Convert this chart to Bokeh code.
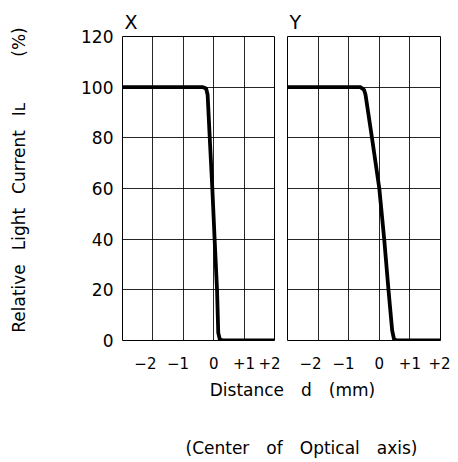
from bokeh.plotting import figure
from bokeh.models import Range1d, FixedTicker, Title, Label
from bokeh.layouts import row, column
from bokeh.embed import file_html
from bokeh.resources import INLINE

# ---- data ----
x_tick_values = [-2, -1, 0, 1, 2]
x_tick_labels = ["\u22122\u2003", "\u22121\u2002\u2009", "0", "+1", "+2"]
y_tick_values = [0, 20, 40, 60, 80, 100, 120]

x_dist = [-3.0, -0.35, -0.25, -0.2, -0.13, -0.045, 0.03, 0.11, 0.15, 0.2, 0.3, 2.0]
x_curr = [100, 100, 99.5, 97, 80, 60, 40, 20, 3, 0.5, 0, 0]

y_dist = [-3.0, -0.62, -0.5, -0.45, -0.24, 0.0, 0.16, 0.30, 0.42, 0.48, 0.58, 2.0]
y_curr = [100, 100, 99, 97, 80, 60, 40, 20, 4, 0.5, 0, 0]

panel_titles = ["X", "Y"]
y_label = ("\u2003Relative\u2002\u00a0Light\u2002\u00a0Current\u2002\u00a0I\u029f"
           "\u2003\u2003\u2002\u2009(%)")
x_label = "Distance\u2003d\u2003(mm)"
note = "(Center\u2003of\u2003Optical\u2003axis)"

FONT = "DejaVu Sans"
H = 376
TOP = 36
BOT = 36


def make_panel(title, xs, ys, left_border, right_border, width, show_y):
    p = figure(width=width, height=H, output_backend="svg", toolbar_location=None,
               x_range=Range1d(-3, 2), y_range=Range1d(0, 120),
               min_border_left=left_border, min_border_right=right_border,
               min_border_top=TOP, min_border_bottom=BOT)
    p.title = Title(text=title, align="left", offset=2, standoff=8,
                    text_font=FONT, text_font_size="19px", text_font_style="normal",
                    text_color="black")
    p.outline_line_color = "black"
    p.outline_line_width = 1
    p.outline_line_alpha = 1
    p.background_fill_color = "white"
    p.border_fill_color = "white"

    p.xaxis.ticker = FixedTicker(ticks=x_tick_values)
    p.xaxis.major_label_overrides = {v: l for v, l in zip(x_tick_values, x_tick_labels)}
    p.yaxis.ticker = FixedTicker(ticks=y_tick_values)
    for ax in (p.xaxis, p.yaxis):
        ax.axis_line_color = None
        ax.major_tick_line_color = None
        ax.minor_tick_line_color = None
        ax.major_tick_out = 0
        ax.major_tick_in = 0
        ax.minor_tick_out = 0
        ax.minor_tick_in = 0
        ax.major_label_text_font = FONT
        ax.major_label_text_color = "black"
    p.xaxis.major_label_text_font_size = "15px"
    p.xaxis.major_label_standoff = 14
    p.yaxis.major_label_text_font_size = "17px"
    p.yaxis.major_label_standoff = 9

    p.xgrid.ticker = FixedTicker(ticks=x_tick_values)
    p.ygrid.ticker = FixedTicker(ticks=y_tick_values)
    for g in (p.xgrid, p.ygrid):
        g.grid_line_color = "black"
        g.grid_line_alpha = 0.85
        g.grid_line_width = 1

    if show_y:
        p.yaxis.axis_label = y_label
        p.yaxis.axis_label_text_font = FONT
        p.yaxis.axis_label_text_font_size = "17px"
        p.yaxis.axis_label_text_font_style = "normal"
        p.yaxis.axis_label_text_color = "black"
        p.yaxis.axis_label_standoff = 49
    else:
        p.yaxis.visible = False

    p.line(xs, ys, line_color="black", line_width=3.8,
           line_join="round", line_cap="round")
    return p


left = make_panel(panel_titles[0], x_dist, x_curr, 122, 6, 280, True)
right = make_panel(panel_titles[1], y_dist, y_curr, 7, 10, 170, False)

CAP_W = 450
CAP_H = 84
cap = figure(width=CAP_W, height=CAP_H, output_backend="svg", toolbar_location=None,
             x_range=Range1d(0, CAP_W), y_range=Range1d(0, CAP_H),
             min_border=0)
cap.axis.visible = False
cap.grid.visible = False
cap.outline_line_color = None
cap.add_layout(Label(x=292, y=71, text=x_label, text_align="center",
                     text_baseline="middle", text_font=FONT, text_font_size="17px",
                     text_color="black"))
cap.add_layout(Label(x=301, y=13, text=note, text_align="center",
                     text_baseline="middle", text_font=FONT, text_font_size="17px",
                     text_color="black"))

layout = column(row(left, right), cap)
open("out.html", "w").write(file_html(layout, INLINE))
